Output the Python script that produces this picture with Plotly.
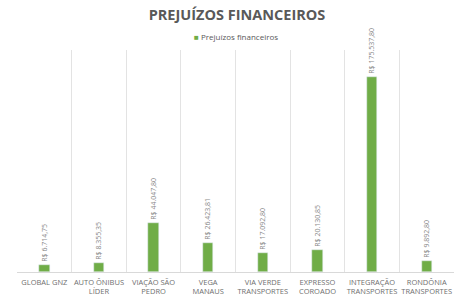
import plotly.graph_objects as go

categories = ["GLOBAL GNZ", "AUTO ÔNIBUS<br>LÍDER", "VIAÇÃO SÃO<br>PEDRO", "VEGA<br>MANAUS",
              "VIA VERDE<br>TRANSPORTES", "EXPRESSO<br>COROADO", "INTEGRAÇÃO<br>TRANSPORTES",
              "RONDÔNIA<br>TRANSPORTES"]
values = [6714.75, 8355.35, 44047.80, 26423.81, 17092.80, 20130.85, 175537.80, 9892.80]
series_name = "Prejuízos financeiros"


def brl(v):
    s = f"{v:,.2f}"
    s = s.replace(",", "X").replace(".", ",").replace("X", ".")
    return "R$ " + s


labels = [brl(v) for v in values]
idx = list(range(len(categories)))
green = "#70AD47"

fig = go.Figure()
fig.add_trace(go.Bar(
    x=idx, y=values, name=series_name, width=0.19,
    marker=dict(color=green),
    text=labels, textposition="outside", textangle=-90,
    textfont=dict(size=7, color="#8a8a8a", family="Open Sans"),
    cliponaxis=False, constraintext="none",
    showlegend=False,
))

fig.update_layout(
    width=474, height=306,
    margin=dict(l=17, r=20, t=50, b=34),
    paper_bgcolor="white", plot_bgcolor="white",
    font=dict(family="Open Sans", color="#595959"),
    title=dict(text="<b>PREJUÍZOS FINANCEIROS</b>", x=0.5, xanchor="center",
               y=0.95, yanchor="middle", font=dict(size=14.5, color="#595959")),
    showlegend=False,
    bargap=0,
    annotations=[dict(
        text=f"<span style='color:{green}'>■</span> {series_name}",
        xref="paper", yref="paper", x=0.5, y=1.063, xanchor="center", yanchor="middle",
        showarrow=False, font=dict(size=8, color="#595959"),
    )],
)
fig.update_xaxes(
    range=[-0.5, len(categories) - 0.5],
    tickvals=idx, ticktext=categories, tickangle=0,
    tickfont=dict(size=7.5, color="#6f6f6f"),
    ticklabelstandoff=4, automargin=False,
    showgrid=False, zeroline=False, ticks="",
    showline=False,
    minor=dict(tick0=-0.5, dtick=1, showgrid=True, gridcolor="#e3e3e3", gridwidth=1),
)
fig.update_yaxes(
    range=[0, 200000], visible=True, showticklabels=False, showgrid=False,
    zeroline=True, zerolinecolor="#d9d9d9", zerolinewidth=1, ticks="",
    automargin=False,
)

fig.write_html("out.html")
